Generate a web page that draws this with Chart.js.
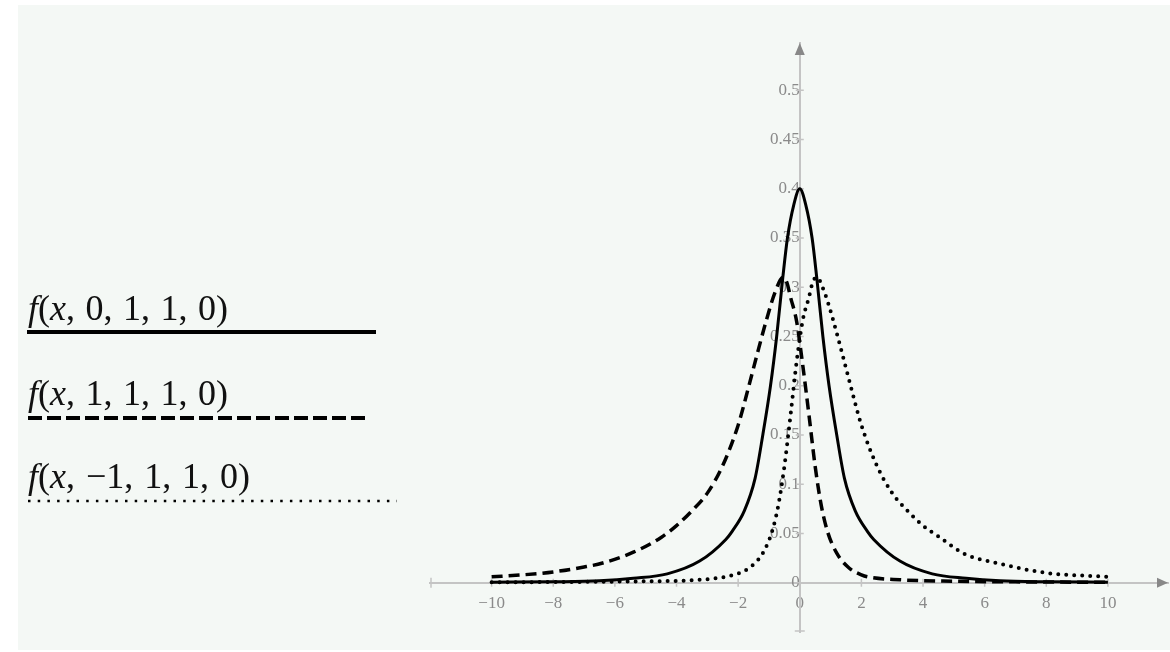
<!DOCTYPE html>
<html>
<head>
<meta charset="utf-8">
<script src="https://cdn.jsdelivr.net/npm/chart.js@4/dist/chart.umd.min.js"></script>
<style>
html, body { margin: 0; padding: 0; background: #fff; }
</style>
</head>
<body>
<canvas id="myChart1" width="1170" height="652"></canvas>
<script>
// tick labels on both axes
var xTicks = [-10, -8, -6, -4, -2, 0, 2, 4, 6, 8, 10];
var yTicks = [0, 0.05, 0.1, 0.15, 0.2, 0.25, 0.3, 0.35, 0.4, 0.45, 0.5];

// argument lists shown in the legend, f(x, a, b, c, d)
var seriesArgs = [[0, 1, 1, 0], [1, 1, 1, 0], [-1, 1, 1, 0]];

// f(x,0,1,1,0)
var solidX = [-10, -8, -6.5, -5.4, -4.3, -3.25, -2.4, -2.2, -1.8, -1.45, -1.2, -0.95, -0.75, -0.55, -0.4, -0.2, 0,
              0.2, 0.4, 0.55, 0.75, 0.95, 1.2, 1.45, 1.8, 2.2, 2.4, 3.25, 4.3, 5.4, 6.5, 8, 10];
var solidY = [0.0005, 0.001, 0.002, 0.0045, 0.009, 0.022, 0.044, 0.052, 0.073, 0.106, 0.15, 0.2, 0.25, 0.31, 0.35, 0.383, 0.4,
              0.383, 0.35, 0.31, 0.25, 0.2, 0.15, 0.106, 0.073, 0.052, 0.044, 0.022, 0.009, 0.0045, 0.002, 0.001, 0.0005];

// f(x,1,1,1,0)
var dashX = [-10, -9, -8, -7, -6.4, -5.4, -4.5, -4, -3.5, -3, -2.5, -2, -1.65, -1.4, -1.08, -0.8, -0.55, -0.42, -0.3, -0.1,
             0.1, 0.3, 0.5, 0.7, 0.9, 1.2, 1.6, 2, 2.2, 3.25, 5, 7.5, 10];
var dashY = [0.006, 0.008, 0.011, 0.016, 0.02, 0.031, 0.046, 0.058, 0.073, 0.091, 0.119, 0.16, 0.2, 0.23, 0.267, 0.295, 0.31, 0.305, 0.29, 0.265,
             0.22, 0.17, 0.118, 0.078, 0.052, 0.03, 0.015, 0.008, 0.006, 0.003, 0.0015, 0.0008, 0.0005];

// f(x,-1,1,1,0)
var dotX = [-10, -7.5, -5, -3.25, -2, -1.6, -1.2, -0.9, -0.7, -0.5, -0.3, -0.1, 0.1, 0.3, 0.42, 0.55,
            0.8, 1.08, 1.4, 1.65, 2, 2.5, 3, 3.5, 4, 4.5, 5.36, 6.4, 8, 10];
var dotY = [0.0005, 0.0008, 0.0015, 0.003, 0.0095, 0.016, 0.03, 0.052, 0.078, 0.118, 0.17, 0.225, 0.267, 0.29, 0.305, 0.31,
            0.295, 0.267, 0.23, 0.2, 0.16, 0.119, 0.091, 0.073, 0.058, 0.047, 0.029, 0.02, 0.01, 0.006];

var axisGrey = '#c4c4c4';
var labelGrey = '#8a8a8a';
var arrowGrey = '#888888';

function pts(xs, ys) {
	return xs.map(function(x, i) { return {x: x, y: ys[i]}; });
}

function fmt(v) {
	return v < 0 ? '\u2212' + Math.abs(v) : String(v);
}

// light panel behind everything
var panelPlugin = {
	id: 'panel',
	beforeDraw: function(chart) {
		var ctx = chart.ctx;
		ctx.save();
		ctx.fillStyle = '#ffffff';
		ctx.fillRect(0, 0, chart.width, chart.height);
		ctx.fillStyle = '#f4f8f5';
		ctx.fillRect(18, 5, chart.width - 18, chart.height - 7);
		ctx.restore();
	}
};

// tick marks, end caps and arrow heads on the crossing axes
var axisPlugin = {
	id: 'axisMarks',
	beforeDatasetsDraw: function(chart) {
		var ctx = chart.ctx, xs = chart.scales.x, ys = chart.scales.y, area = chart.chartArea;
		var ox = xs.getPixelForValue(0), oy = ys.getPixelForValue(0);
		ctx.save();
		ctx.strokeStyle = axisGrey;
		ctx.lineWidth = 1.5;
		ctx.beginPath();
		xTicks.forEach(function(v) {
			var px = xs.getPixelForValue(v);
			ctx.moveTo(px, oy - 4); ctx.lineTo(px, oy + 4);
		});
		yTicks.forEach(function(v) {
			var py = ys.getPixelForValue(v);
			ctx.moveTo(ox - 4, py); ctx.lineTo(ox + 4, py);
		});
		ctx.moveTo(area.left + 1, oy - 5); ctx.lineTo(area.left + 1, oy + 5);
		ctx.moveTo(ox - 5, area.bottom - 1); ctx.lineTo(ox + 5, area.bottom - 1);
		ctx.stroke();

		ctx.fillStyle = arrowGrey;
		ctx.beginPath();
		ctx.moveTo(area.right, oy);
		ctx.lineTo(area.right - 11, oy - 5);
		ctx.lineTo(area.right - 11, oy + 5);
		ctx.closePath();
		ctx.fill();
		ctx.beginPath();
		ctx.moveTo(ox, area.top);
		ctx.lineTo(ox - 5, area.top + 12);
		ctx.lineTo(ox + 5, area.top + 12);
		ctx.closePath();
		ctx.fill();
		ctx.restore();
	}
};

// legend on the left: label text over a sample of each line style
var legendStyles = [
	{base: 320, lineY: 332, x1: 27, x2: 376, width: 200, lw: 4, dash: []},
	{base: 405, lineY: 418, x1: 28, x2: 370, width: 200, lw: 4, dash: [14, 5]},
	{base: 488, lineY: 501, x1: 28, x2: 397, width: 222, lw: 2.5, dash: [2.5, 7.2]}
];

function drawMathLabel(ctx, text, x, base, target) {
	var italic = "italic 36px 'Liberation Serif', serif";
	var upright = "36px 'Liberation Serif', serif";
	var chars = text.split('');
	var natural = 0, commas = 0;
	chars.forEach(function(c) {
		ctx.font = /[a-z]/.test(c) ? italic : upright;
		natural += ctx.measureText(c).width;
		if (c === ',') commas++;
	});
	var extra = commas ? Math.max(0, (target - natural) / commas) : 0;
	var cx = x;
	chars.forEach(function(c) {
		ctx.font = /[a-z]/.test(c) ? italic : upright;
		ctx.fillText(c, cx, base);
		cx += ctx.measureText(c).width;
		if (c === ',') cx += extra;
	});
}

var legendPlugin = {
	id: 'sideLegend',
	afterDraw: function(chart) {
		var ctx = chart.ctx;
		ctx.save();
		ctx.fillStyle = '#111';
		ctx.textBaseline = 'alphabetic';
		seriesArgs.forEach(function(args, i) {
			var st = legendStyles[i];
			var label = 'f(x,' + args.map(fmt).join(',') + ')';
			drawMathLabel(ctx, label, 28, st.base, st.width);
			ctx.strokeStyle = '#000';
			ctx.lineWidth = st.lw;
			ctx.setLineDash(st.dash);
			ctx.beginPath();
			ctx.moveTo(st.x1, st.lineY);
			ctx.lineTo(st.x2, st.lineY);
			ctx.stroke();
		});
		ctx.restore();
	}
};

var tickFont = {family: "'Liberation Serif', serif", size: 17};

window.onload = function() {
	var ctx = document.getElementById('myChart1').getContext('2d');
	window.myLines = new Chart(ctx, {
		type: 'scatter',
		data: {
			datasets: [{
				label: 'f(x,0,1,1,0)',
				data: pts(solidX, solidY),
				borderColor: '#000',
				borderWidth: 3
			}, {
				label: 'f(x,1,1,1,0)',
				data: pts(dashX, dashY),
				borderColor: '#000',
				borderWidth: 3.5,
				borderDash: [11, 6]
			}, {
				label: 'f(x,-1,1,1,0)',
				data: pts(dotX, dotY),
				borderColor: '#000',
				borderWidth: 4,
				borderDash: [0, 8],
				borderCapStyle: 'round'
			}]
		},
		options: {
			responsive: false,
			animation: false,
			devicePixelRatio: 1,
			showLine: true,
			elements: {
				point: {radius: 0, hoverRadius: 0},
				line: {cubicInterpolationMode: 'monotone', fill: false}
			},
			layout: {padding: {left: 430, right: 2, top: 43, bottom: 20}},
			plugins: {legend: {display: false}, tooltip: {enabled: false}},
			scales: {
				x: {
					type: 'linear',
					min: -12,
					max: 11.95,
					position: {y: 0},
					afterBuildTicks: function(axis) {
						axis.ticks = xTicks.map(function(v) { return {value: v}; });
					},
					grid: {display: false, drawTicks: false},
					border: {color: axisGrey, width: 2},
					ticks: {
						padding: 11,
						color: labelGrey,
						font: tickFont,
						maxRotation: 0,
						autoSkip: false,
						callback: function(v) { return fmt(v); }
					}
				},
				y: {
					type: 'linear',
					min: -0.05,
					max: 0.548,
					position: {x: 0},
					afterBuildTicks: function(axis) {
						axis.ticks = yTicks.map(function(v) { return {value: v}; });
					},
					grid: {display: false, drawTicks: false},
					border: {color: axisGrey, width: 2},
					ticks: {
						padding: 4,
						color: labelGrey,
						font: tickFont,
						autoSkip: false,
						callback: function(v) { return String(v); }
					}
				}
			}
		},
		plugins: [panelPlugin, axisPlugin, legendPlugin]
	});
};
</script>
</body>
</html>
